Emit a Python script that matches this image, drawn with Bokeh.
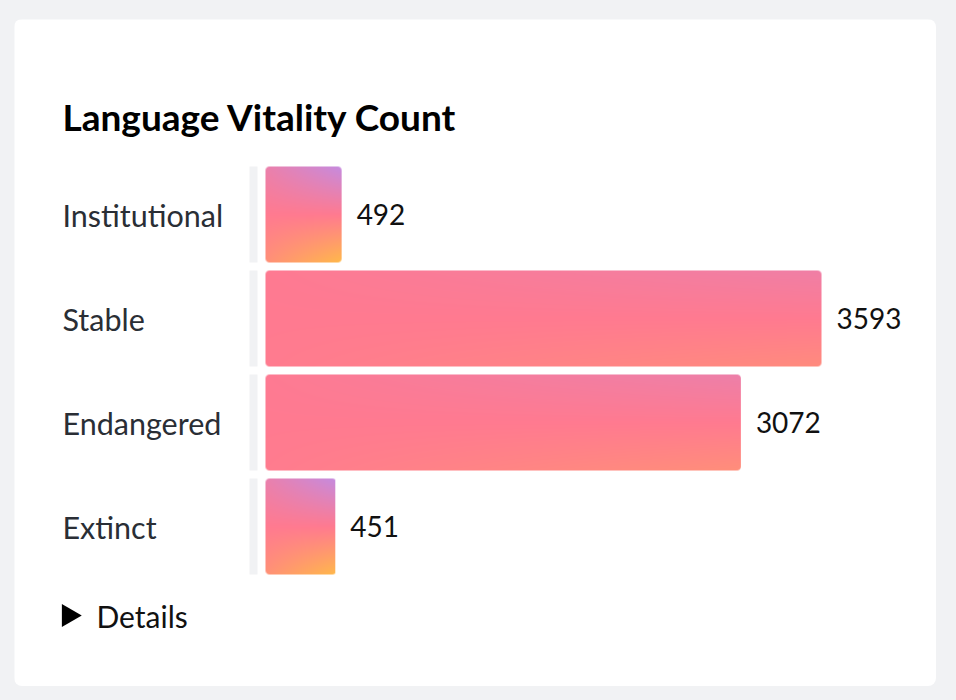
import numpy as np
from bokeh.plotting import figure
from bokeh.models import Range1d
from bokeh.core.properties import value
from bokeh.embed import file_html
from bokeh.resources import INLINE

# ---------------- data ----------------
categories = ["Institutional", "Stable", "Endangered", "Extinct"]
counts = [492, 3593, 3072, 451]
title_text = "Language Vitality Count"
details_text = "Details"

# ---------------- layout constants (px, relative to card) ----------------
W, H = 922, 667
BAR0 = 251                 # where the bars start
PX_PER_UNIT = 556 / 3593   # horizontal scale
ROW0, ROW_STEP, BAR_H = 195, 104, 96
k = 1.0 / PX_PER_UNIT
n = len(categories)


def X(px):
    return (px - BAR0) * k


def Y(py):
    return (n - 1) - (py - ROW0) / ROW_STEP


p = figure(width=W, height=H,
           x_range=Range1d(X(0), X(W)), y_range=Range1d(Y(H), Y(0)),
           output_backend="svg", toolbar_location=None, min_border=0,
           x_axis_location=None, y_axis_location=None,
           background_fill_color="white", border_fill_color="white",
           outline_line_color=None)
p.grid.visible = False
p.styles = {"margin-left": "14px", "margin-top": "19px",
            "border-radius": "8px", "overflow": "hidden"}

ys = [n - 1 - i for i in range(n)]
half = (BAR_H / 2) / ROW_STEP

# grey track left of bars
p.quad(left=[X(BAR0 - 16)] * n, right=[X(BAR0 - 8)] * n,
       bottom=[y - half for y in ys], top=[y + half for y in ys],
       fill_color="#f1f2f4", line_color=None)

purple = np.array([197, 139, 224], dtype=float)
pink = np.array([255, 122, 144], dtype=float)
orange = np.array([255, 185, 74], dtype=float)


def gradient_img(w_px, h_px, r=4.0):
    xs = np.arange(w_px) + 0.5
    yy = np.arange(h_px) + 0.5
    XX, YY = np.meshgrid(xs, yy)
    T = YY / h_px
    kk = min(1.0, 150.0 / w_px)
    s = kk * (XX + 40.0) / (w_px + 40.0)
    tp = 0.5 + (T - 0.5) * s
    f1 = np.clip(tp / 0.5, 0, 1)[..., None]
    f2 = np.clip((tp - 0.5) / 0.5, 0, 1)[..., None]
    col = np.where(tp[..., None] < 0.5,
                   purple + (pink - purple) * f1,
                   pink + (orange - pink) * f2)
    cx = np.clip(XX, r, w_px - r)
    cy = np.clip(YY, r, h_px - r)
    d = np.hypot(XX - cx, YY - cy)
    a = np.clip(r + 0.5 - d, 0, 1)
    img = np.empty((h_px, w_px), dtype=np.uint32)
    v = img.view(dtype=np.uint8).reshape((h_px, w_px, 4))
    v[..., 0] = np.round(col[..., 0])
    v[..., 1] = np.round(col[..., 1])
    v[..., 2] = np.round(col[..., 2])
    v[..., 3] = np.round(a * 255)
    return img[::-1]


for cnt, y in zip(counts, ys):
    w_px = int(round(cnt * PX_PER_UNIT))
    img = gradient_img(w_px, BAR_H)
    p.image_rgba(image=[img], x=0, y=y - half, dw=cnt, dh=2 * half)

# category labels
p.text(x=[X(48)] * n, y=ys, text=categories, text_font=value("Lato"),
       text_font_size="30.5px", text_color="#2a2e35",
       text_baseline="middle", text_align="left")

# value labels
p.text(x=[c + 15 * k for c in counts], y=ys, text=[str(c) for c in counts],
       text_font=value("Lato"), text_font_size="28px", text_color="#111111",
       text_baseline="middle", text_align="left")

# title
p.text(x=[X(48)], y=[Y(97)], text=[title_text], text_font=value("Lato"),
       text_font_style="bold", text_font_size="37px", text_color="#000000",
       text_baseline="middle", text_align="left")

# details disclosure
p.scatter(x=[X(54)], y=[Y(596)], marker="triangle", size=23,
          angle=-np.pi / 2, fill_color="black", line_color=None)
p.text(x=[X(82)], y=[Y(596)], text=[details_text], text_font=value("Lato"),
       text_font_size="30px", text_color="#111111",
       text_baseline="middle", text_align="left")

html = file_html(p, INLINE, title="Language Vitality Count")
html = html.replace("</head>", "<style>html,body{background:#f1f2f4;}</style></head>")
open("out.html", "w").write(html)
